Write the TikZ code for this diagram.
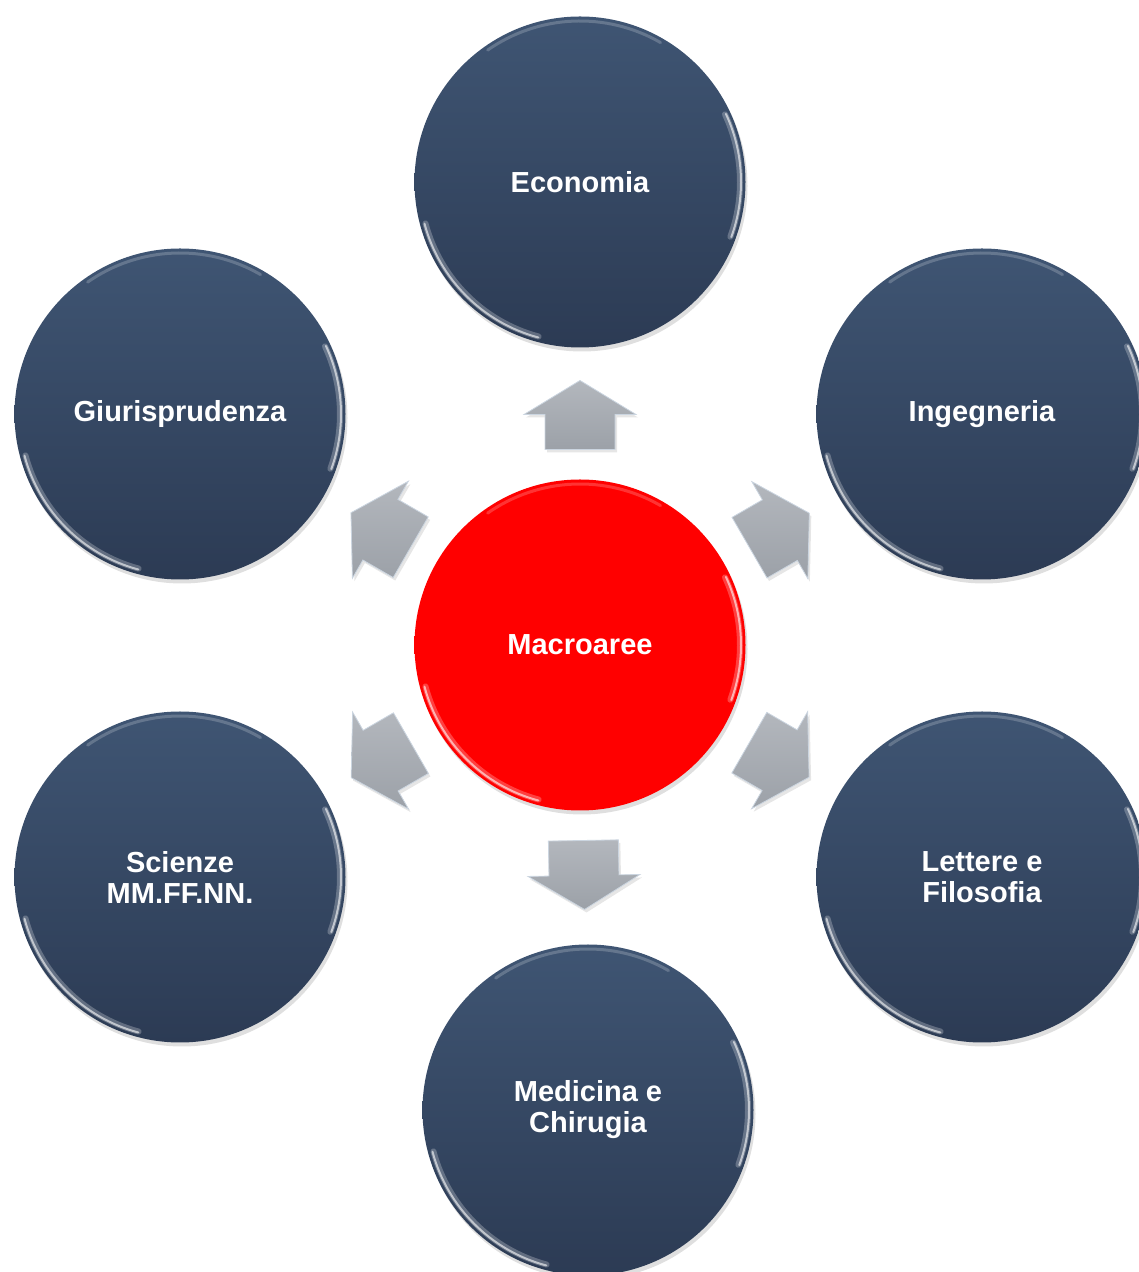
\documentclass[tikz,border=0pt]{standalone}
\usepackage{fontspec}
\newfontfamily\labelfont{Liberation Sans}
\usetikzlibrary{calc,shadows}

\definecolor{areatop}{HTML}{3F5573}
\definecolor{areabot}{HTML}{2C3B54}
\definecolor{macrored}{HTML}{FF0000}
\definecolor{arrowlight}{HTML}{B3B7BD}
\definecolor{arrowdark}{HTML}{9CA1A8}
\definecolor{arrowedge}{HTML}{CBD5E0}

\tikzset{
  area/.style={circle, minimum size=331pt, inner sep=0pt, text=white, align=center,
    font=\labelfont\bfseries\fontsize{29}{31}\selectfont,
    top color=areatop, bottom color=areabot,
    drop shadow={opacity=0.25, shadow xshift=2pt, shadow yshift=-4pt}},
  centre/.style={area, top color=macrored, bottom color=macrored},
  blockarrow/.style={top color=arrowlight, bottom color=arrowdark, draw=arrowedge,
    line width=0.8pt, line join=miter,
    drop shadow={opacity=0.2, shadow xshift=2pt, shadow yshift=-3pt}},
  glow/.style={white, opacity=0.25, line width=6pt, line cap=round},
  rim/.style={white, opacity=0.6, line width=2pt, line cap=round},
  toprim/.style={white, opacity=0.2, line width=3pt, line cap=round},
}

\begin{document}
\begin{tikzpicture}[x=1pt, y=1pt]
  \useasboundingbox (0,0) rectangle (1139,1272);

  % centre and the six areas
  \node[centre] (macro) at (580,627) {Macroaree};
  \node[area] (eco) at (580,1090) {Economia};
  \node[area] (giur) at (180,858) {Giurisprudenza};
  \node[area] (ing) at (982,858) {Ingegneria};
  \node[area] (sci) at (180,395) {Scienze\\MM.FF.NN.};
  \node[area] (lett) at (982,395) {Lettere e\\Filosofia};
  \node[area] (med) at (588,162) {Medicina e\\Chirugia};

  % light rims
  \foreach \n in {macro,eco,giur,ing,sci,lett,med} {
    \draw[glow] ($(\n.center)+(195:160)$) arc[start angle=195, end angle=255, radius=160];
    \draw[rim] ($(\n.center)+(195:161)$) arc[start angle=195, end angle=255, radius=161];
    \draw[glow] ($(\n.center)+(-20:160)$) arc[start angle=-20, end angle=25, radius=160];
    \draw[rim] ($(\n.center)+(-20:161)$) arc[start angle=-20, end angle=25, radius=161];
    \draw[toprim] ($(\n.center)+(60:161)$) arc[start angle=60, end angle=125, radius=161];
  }

  % block arrows from the centre
  \foreach \target/\ang in {eco/90, ing/30, lett/-30, med/-89, sci/210, giur/150} {
    \draw[blockarrow, shift={($(macro)!230pt!(\target)$)}, rotate=\ang]
      (-34.5,-35) -- (0.5,-35) -- (0.5,-56) -- (34.5,0) -- (0.5,56) -- (0.5,35) -- (-34.5,35) -- cycle;
  }
\end{tikzpicture}
\end{document}
